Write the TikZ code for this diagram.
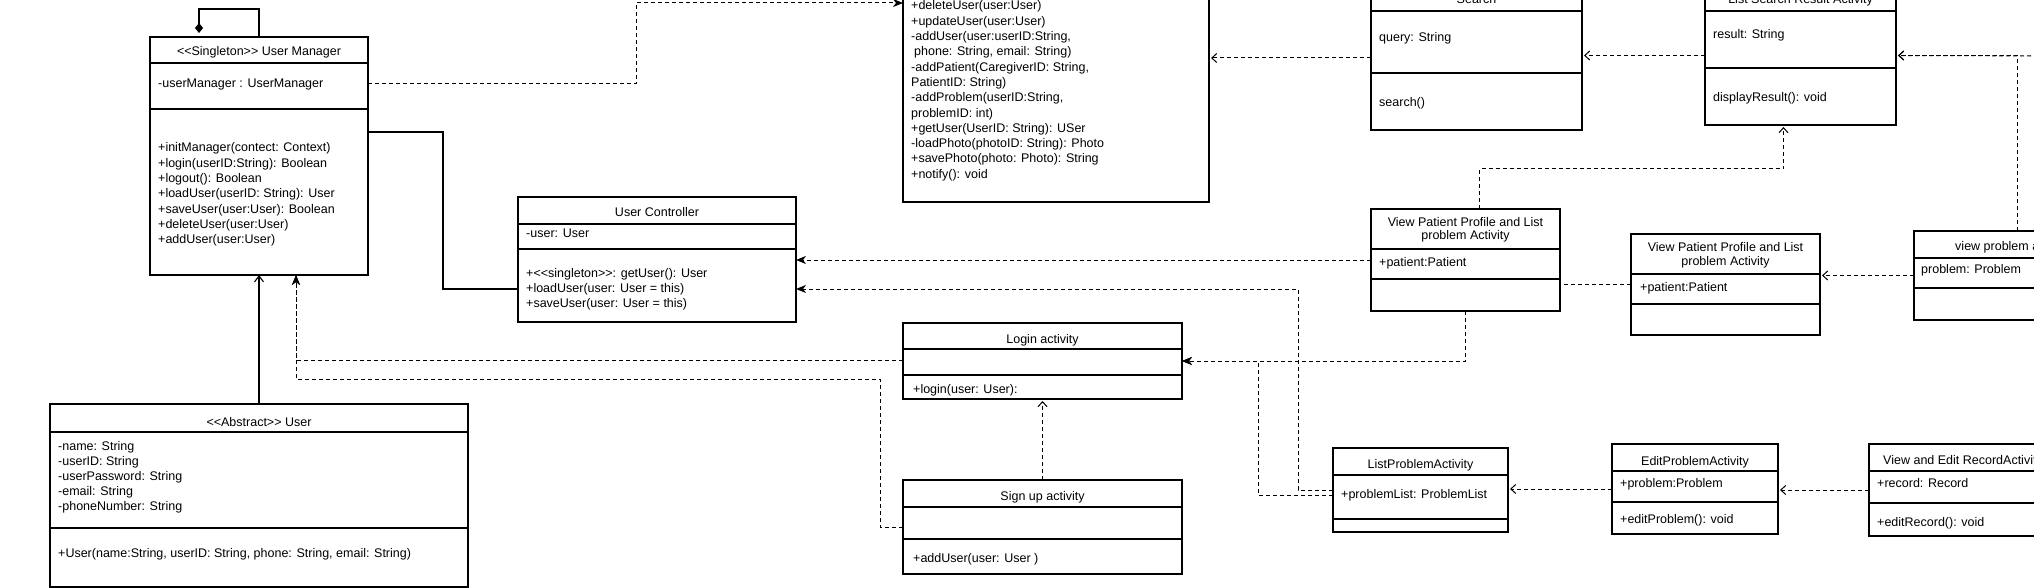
\documentclass[tikz,border=0pt]{standalone}
\usepackage{fontspec}
\setmainfont{Liberation Sans}[Ligatures=TeXOff]
\usetikzlibrary{arrows.meta}

\begin{document}
\begin{tikzpicture}[x=1pt, y=-1pt,
    classbox/.style={draw, line width=1.1pt, inner sep=0pt, outer sep=0pt},
    divline/.style={line width=1.1pt},
    txt/.style={anchor=west, inner sep=0pt, text height=9.5pt, text depth=1.5pt,
      font=\fontsize{12.5}{15.3}\selectfont},
    ttl/.style={txt, anchor=center},
    ttltwo/.style={inner sep=0pt, align=center, font=\fontsize{12.5}{13.5}\selectfont},
    solidln/.style={line width=1.1pt},
    depline/.style={line width=1pt, dash pattern=on 4pt off 3pt},
    depfill/.style={depline, -{Stealth[length=10pt, width=8pt, inset=3pt]}},
    depopen/.style={depline, -{Straight Barb[length=5pt, width=9pt]}, shorten >=2pt},
    inherit/.style={solidln, -{Straight Barb[length=6pt, width=9pt]}}
  ]
  \fill[white] (0,0) rectangle (2034,588);
  \useasboundingbox (0,0) rectangle (2034,588);
  \clip (0,0) rectangle (2034,588);

  %%User Manager
  \node[classbox, minimum width=218pt, minimum height=238pt] (um) at (259,156) {};
    \draw[divline] (um.west |- 0,63) -- (um.east |- 0,63);
    \draw[divline] (um.west |- 0,109) -- (um.east |- 0,109);
  \node[ttl] (um-t) at (259,52) {<<Singleton>> User Manager};
  \node[txt] (um-a) at (158,84) {-userManager : UserManager};
  \foreach \m [count=\i] in {{+initManager(contect: Context)}, {+login(userID:String): Boolean},
      {+logout(): Boolean}, {+loadUser(userID: String): User}, {+saveUser(user:User): Boolean},
      {+deleteUser(user:User)}, {+addUser(user:User)}}
    \node[txt] (um-m\i) at ({158}, {148+15.33*(\i-1)}) {\m};

  %%Abstract User
  \node[classbox, minimum width=418pt, minimum height=183pt] (usr) at (259,495.5) {};
    \draw[divline] (usr.west |- 0,432) -- (usr.east |- 0,432);
    \draw[divline] (usr.west |- 0,528) -- (usr.east |- 0,528);
  \node[ttl] (usr-t) at (259,422) {<<Abstract>> User};
  \foreach \a [count=\i] in {{-name: String}, {-userID: String}, {-userPassword: String},
      {-email: String}, {-phoneNumber: String}}
    \node[txt] (usr-a\i) at ({58}, {446+15*(\i-1)}) {\a};
  \node[txt] (usr-m) at (58,553) {+User(name:String, userID: String, phone: String, email: String)};

  %%data manager (top, cut)
  \node[classbox, minimum width=306pt, minimum height=302pt] (db) at (1056,51) {};
  \foreach \m [count=\i] in {{+deleteUser(user:User)}, {+updateUser(user:User)},
      {-addUser(user:userID:String,}, {\hspace{3pt}phone: String, email: String)},
      {-addPatient(CaregiverID: String,}, {PatientID: String)},
      {-addProblem(userID:String,}, {problemID: int)},
      {+getUser(UserID: String): USer}, {-loadPhoto(photoID: String): Photo},
      {+savePhoto(photo: Photo): String}, {+notify(): void}}
    \node[txt] (db-m\i) at ({911}, {6+15.3*(\i-1)}) {\m};

  %%User Controller
  \node[classbox, minimum width=278pt, minimum height=125pt] (uc) at (657,259.5) {};
    \draw[divline] (uc.west |- 0,224) -- (uc.east |- 0,224);
    \draw[divline] (uc.west |- 0,249) -- (uc.east |- 0,249);
  \node[ttl] (uc-t) at (657,212) {User Controller};
  \node[txt] (uc-a) at (526,233) {-user: User};
  \foreach \m [count=\i] in {{+<<singleton>>: getUser(): User}, {+loadUser(user: User = this)},
      {+saveUser(user: User = this)}}
    \node[txt] (uc-m\i) at ({526}, {273+15*(\i-1)}) {\m};

  %%Search
  \node[classbox, minimum width=211pt, minimum height=144pt] (srch) at (1476.5,58) {};
    \draw[divline] (srch.west |- 0,11) -- (srch.east |- 0,11);
    \draw[divline] (srch.west |- 0,73) -- (srch.east |- 0,73);
  \node[ttl] (srch-t) at (1476.5,0) {Search};
  \node[txt] (srch-a) at (1379,38) {query: String};
  \node[txt] (srch-m) at (1379,103) {search()};

  %%List Search Result
  \node[classbox, minimum width=191pt, minimum height=139pt] (lsr) at (1800.5,55.5) {};
    \draw[divline] (lsr.west |- 0,11) -- (lsr.east |- 0,11);
    \draw[divline] (lsr.west |- 0,68) -- (lsr.east |- 0,68);
  \node[ttl] (lsr-t) at (1800.5,0) {List Search Result Activity};
  \node[txt] (lsr-a) at (1713,35) {result: String};
  \node[txt] (lsr-m) at (1713,98) {displayResult(): void};

  %%View Patient 1
  \node[classbox, minimum width=189pt, minimum height=102pt] (vp1) at (1465.5,260) {};
    \draw[divline] (vp1.west |- 0,249) -- (vp1.east |- 0,249);
    \draw[divline] (vp1.west |- 0,279) -- (vp1.east |- 0,279);
  \node[ttltwo] (vp1-t) at (1465.5,230) {View Patient Profile and List\\problem Activity};
  \node[txt] (vp1-a) at (1379,262) {+patient:Patient};

  %%View Patient 2
  \node[classbox, minimum width=189pt, minimum height=101pt] (vp2) at (1725.5,284.5) {};
    \draw[divline] (vp2.west |- 0,274) -- (vp2.east |- 0,274);
    \draw[divline] (vp2.west |- 0,304) -- (vp2.east |- 0,304);
  \node[ttltwo] (vp2-t) at (1725.5,255.5) {View Patient Profile and List\\problem Activity};
  \node[txt] (vp2-a) at (1640,287) {+patient:Patient};

  %%view problem (cut)
  \node[classbox, minimum width=206pt, minimum height=89pt] (vprob) at (2017,275.5) {};
    \draw[divline] (vprob.west |- 0,258) -- (vprob.east |- 0,258);
    \draw[divline] (vprob.west |- 0,288) -- (vprob.east |- 0,288);
  \node[txt] (vprob-t) at (1955,246) {view problem activity};
  \node[txt] (vprob-a) at (1921,269) {problem: Problem};

  %%Login
  \node[classbox, minimum width=279pt, minimum height=76pt] (login) at (1042.5,361) {};
    \draw[divline] (login.west |- 0,349) -- (login.east |- 0,349);
    \draw[divline] (login.west |- 0,375) -- (login.east |- 0,375);
  \node[ttl] (login-t) at (1042.5,339) {Login activity};
  \node[txt] (login-m) at (913,389) {+login(user: User):};

  %%Sign up
  \node[classbox, minimum width=279pt, minimum height=94pt] (signup) at (1042.5,527) {};
    \draw[divline] (signup.west |- 0,507) -- (signup.east |- 0,507);
    \draw[divline] (signup.west |- 0,539) -- (signup.east |- 0,539);
  \node[ttl] (signup-t) at (1042.5,496) {Sign up activity};
  \node[txt] (signup-m) at (913,558) {+addUser(user: User )};

  %%ListProblem
  \node[classbox, minimum width=175pt, minimum height=84pt] (lpa) at (1420.5,490) {};
    \draw[divline] (lpa.west |- 0,475) -- (lpa.east |- 0,475);
    \draw[divline] (lpa.west |- 0,519) -- (lpa.east |- 0,519);
  \node[ttl] (lpa-t) at (1420.5,464) {ListProblemActivity};
  \node[txt] (lpa-a) at (1341,494) {+problemList: ProblemList};

  %%EditProblem
  \node[classbox, minimum width=166pt, minimum height=90pt] (epa) at (1695,489) {};
    \draw[divline] (epa.west |- 0,471) -- (epa.east |- 0,471);
    \draw[divline] (epa.west |- 0,502) -- (epa.east |- 0,502);
  \node[ttl] (epa-t) at (1695,461) {EditProblemActivity};
  \node[txt] (epa-a) at (1620,483) {+problem:Problem};
  \node[txt] (epa-m) at (1620,519) {+editProblem(): void};

  %%View and Edit Record (cut)
  \node[classbox, minimum width=201pt, minimum height=92pt] (rec) at (1969.5,490) {};
    \draw[divline] (rec.west |- 0,471) -- (rec.east |- 0,471);
    \draw[divline] (rec.west |- 0,503) -- (rec.east |- 0,503);
  \node[txt] (rec-t) at (1883,460) {View and Edit RecordActivity};
  \node[txt] (rec-a) at (1877,483) {+record: Record};
  \node[txt] (rec-m) at (1877,522) {+editRecord(): void};

  \coordinate (offr) at (2080,56);

  %%connectors
  \draw[solidln, -{Diamond[length=10pt, width=8pt]}] (um.north) -- ++(0,-28)
    -| ([xshift=-60pt, yshift=4pt]um.north);
  \draw[depfill] (um.east |- um-a) -| (636,3) -- (db.west |- 0,3);
  \draw[solidln] (um.east |- 0,132) -| (443,289) -- (uc.west |- 0,289);
  \draw[inherit] (usr.north) -- (um.south);
  \draw[depfill] (login.west |- 0,360) -| ([xshift=37pt]um.south);
  \draw[depfill] (signup.west |- 0,527) -- (880,527) |- (296,379)
    -- ([xshift=37pt]um.south);
  \draw[depopen] (signup.north) -- (login.south);
  \draw[depfill] (vp1.south) |- (login.east);
  \draw[depfill] (lpa.west |- 0,495) -| (1258,361) -- (login.east);
  \draw[depfill] (lpa.west |- 0,490) -| (1298,289) -- (uc.east |- 0,289);
  \draw[depfill] (vp1.west) -- (uc.east |- vp1.west);
  \draw[depopen] ([xshift=14pt]vp1.north) -- ++(0,-40) -| ([xshift=-17pt]lsr.south);
  \draw[depopen] (srch.west) -- (db.east |- srch.west);
  \draw[depopen] (lsr.west) -- (srch.east |- lsr.west);
  \draw[depopen] (vprob.north) |- (lsr.east);
  \draw[depopen] (offr) -- (lsr.east);
  \draw[depopen] (vprob.west) -- (vp2.east |- vprob.west);
  \draw[depline] (vp2.west) -- (vp1.east |- vp2.west);
  \draw[depopen] (epa.west) -- (lpa.east |- epa.west);
  \draw[depopen] (rec.west) -- (epa.east |- rec.west);
\end{tikzpicture}
\end{document}
